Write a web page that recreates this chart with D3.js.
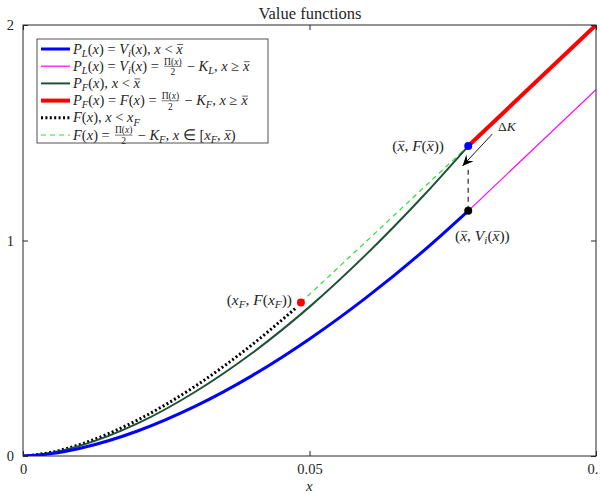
<!DOCTYPE html>
<html>
<head>
<meta charset="utf-8">
<script src="https://cdn.jsdelivr.net/npm/d3@7"></script>
<style>
  body { margin: 0; background: #fff; }
  text { font-family: "Liberation Serif", serif; fill: #262626; }
</style>
</head>
<body>
<script>

// values
var xTicks = [0, 0.05, 0.1],
	xTickLabels = ["0", "0.05", "0.1"],
	yTicks = [0, 1, 2];

// P_L(x) = V_i(x) for x < xbar (blue) and P_F(x) (dark green)
var xGrid = [0, 0.005, 0.01, 0.02, 0.03, 0.04, 0.05, 0.06, 0.07, 0.0777];
var plValues = [0, 0.011, 0.036, 0.116, 0.230, 0.373, 0.543, 0.737, 0.954, 1.1375];
var pfValues = [0, 0.015, 0.048, 0.151, 0.297, 0.478, 0.692, 0.938, 1.211, 1.4385];

// F(x) for x < x_F (black dotted)
var fGrid = [0, 0.005, 0.01, 0.02, 0.03, 0.04, 0.0478];
var fValues = [0, 0.0175, 0.054, 0.167, 0.323, 0.517, 0.691];

// straight pieces
var redX = [0.0777, 0.1], redY = [1.4385, 2.0];
var magX = [0.0777, 0.1], magY = [1.1375, 1.7];
var dashX = [0.0485, 0.0777], dashY = [0.7125, 1.4385];

// special points
var xBar = 0.0777, fBar = 1.4385, vBar = 1.1375;
var xF = 0.0485, fXF = 0.7125;
var arrowTail = [0.0819, 1.494], arrowHead = [0.0767, 1.346];

var width = 600,
	height = 493;

var svg = d3.select("body").append("svg")
	.attr("width", width)
	.attr("height", height)
	.style("display", "block");

var x = d3.scaleLinear().domain([0, 0.1]).range([23, 596]);
var y = d3.scaleLinear().domain([0, 2]).range([456, 25]);

svg.append("clipPath").attr("id", "plot")
	.append("rect")
	.attr("x", 23).attr("y", 25).attr("width", 573).attr("height", 431);

svg.append("defs").append("marker")
	.attr("id", "head")
	.attr("viewBox", "-12 -6 14 12")
	.attr("markerWidth", 14).attr("markerHeight", 12)
	.attr("markerUnits", "userSpaceOnUse")
	.attr("refX", 0).attr("refY", 0)
	.attr("orient", "auto")
	.append("path")
	.attr("d", "M0,0 L-11,-5 L-7,0 L-11,5 Z")
	.attr("fill", "#000");

// rich text helper: italic, subscript, overline and fractions
function rich(parent, px, py, segs, size) {
	var g = parent.append("g").attr("transform", "translate(" + px + "," + py + ")");
	var cx = 0;
	segs.forEach(function(s) {
		if (s.frac) {
			var fs = size * 0.66;
			var num = g.append("text").attr("font-size", fs).attr("y", -size * 0.42);
			num.append("tspan").text("Π(");
			num.append("tspan").attr("font-style", "italic").text("x");
			num.append("tspan").text(")");
			var den = g.append("text").attr("font-size", fs).attr("y", size * 0.32).text(s.frac[1]);
			var wn = num.node().getComputedTextLength(),
				wd = den.node().getComputedTextLength(),
				w = Math.max(wn, wd) + 3;
			num.attr("x", cx + 1.5 + (w - 3 - wn) / 2);
			den.attr("x", cx + 1.5 + (w - 3 - wd) / 2);
			g.append("line")
				.attr("x1", cx + 1.5).attr("x2", cx + w - 1.5)
				.attr("y1", -size * 0.3).attr("y2", -size * 0.3)
				.attr("stroke", "#262626").attr("stroke-width", 0.6);
			cx += w;
		} else {
			var fs2 = s.sub ? size * 0.72 : size;
			var t = g.append("text")
				.attr("x", cx)
				.attr("y", s.sub ? size * 0.22 : 0)
				.attr("font-size", fs2)
				.attr("font-style", s.it ? "italic" : "normal")
				.attr("xml:space", "preserve")
				.text(s.t);
			var tw = t.node().getComputedTextLength();
			if (s.ov) {
				g.append("line")
					.attr("x1", cx + 1).attr("x2", cx + tw + 0.5)
					.attr("y1", -size * 0.62).attr("y2", -size * 0.62)
					.attr("stroke", "#262626").attr("stroke-width", 0.7);
			}
			cx += tw;
		}
	});
	return { g: g, width: cx };
}

function I(t) { return { t: t, it: true }; }
function S(t) { return { t: t, it: true, sub: true }; }
function R(t) { return { t: t }; }
function O(t) { return { t: t, it: true, ov: true }; }
function FR() { return { frac: ["Π(x)", "2"] }; }

// title
svg.append("text")
	.attr("x", 310).attr("y", 19)
	.attr("text-anchor", "middle")
	.attr("font-size", 16.5)
	.text("Value functions");

var plot = svg.append("g").attr("clip-path", "url(#plot)");

function linePts(xs, ys) { return xs.map(function(d, i) { return [d, ys[i]]; }); }

var curve = d3.line()
	.x(function(d) { return x(d[0]); })
	.y(function(d) { return y(d[1]); })
	.curve(d3.curveMonotoneX);

// dashed green F(x) line on [x_F, xbar)
plot.append("path")
	.attr("d", curve(linePts(dashX, dashY)))
	.attr("fill", "none").attr("stroke", "#2ee02e")
	.attr("stroke-width", 1.2).attr("stroke-dasharray", "5,4");

// black dotted F(x)
plot.append("path")
	.attr("d", curve(linePts(fGrid, fValues)))
	.attr("fill", "none").attr("stroke", "#000")
	.attr("stroke-width", 3).attr("stroke-dasharray", "2,2.4");

// P_F dark green
plot.append("path")
	.attr("d", curve(linePts(xGrid, pfValues)))
	.attr("fill", "none").attr("stroke", "#1f5236")
	.attr("stroke-width", 2);

// P_L blue
plot.append("path")
	.attr("d", curve(linePts(xGrid, plValues)))
	.attr("fill", "none").attr("stroke", "#0000ff")
	.attr("stroke-width", 3);

// magenta and red straight parts
plot.append("path")
	.attr("d", curve(linePts(magX, magY)))
	.attr("fill", "none").attr("stroke", "#ff00ff")
	.attr("stroke-width", 1.2);

plot.append("path")
	.attr("d", curve(linePts(redX, redY)))
	.attr("fill", "none").attr("stroke", "#ff0000")
	.attr("stroke-width", 4);

// Delta K gap: gray dashed vertical and arrow
plot.append("line")
	.attr("x1", x(xBar)).attr("x2", x(xBar))
	.attr("y1", y(vBar)).attr("y2", y(arrowHead[1]) + 2)
	.attr("stroke", "#555").attr("stroke-width", 1.5)
	.attr("stroke-dasharray", "5,4");

plot.append("line")
	.attr("x1", x(arrowTail[0])).attr("y1", y(arrowTail[1]))
	.attr("x2", x(arrowHead[0])).attr("y2", y(arrowHead[1]))
	.attr("stroke", "#000").attr("stroke-width", 0.9)
	.attr("marker-end", "url(#head)");

// points
plot.append("circle").attr("cx", x(xBar)).attr("cy", y(fBar)).attr("r", 4).attr("fill", "#0000ff");
plot.append("circle").attr("cx", x(xBar)).attr("cy", y(vBar)).attr("r", 4).attr("fill", "#000");
plot.append("circle").attr("cx", x(xF)).attr("cy", y(fXF)).attr("r", 4).attr("fill", "#ff0000");

// axes box
svg.append("rect")
	.attr("x", 23).attr("y", 25).attr("width", 573).attr("height", 431)
	.attr("fill", "none").attr("stroke", "#262626").attr("stroke-width", 1);

var xAxisB = d3.axisBottom(x).tickValues(xTicks).tickSize(-5).tickFormat(function(d, i) { return xTickLabels[i]; }).tickPadding(8);
var xAxisT = d3.axisTop(x).tickValues(xTicks).tickSize(-5).tickFormat("");
var yAxisL = d3.axisLeft(y).tickValues(yTicks).tickSize(-5).tickFormat(d3.format("d")).tickPadding(9);
var yAxisR = d3.axisRight(y).tickValues(yTicks).tickSize(-5).tickFormat("");

[[xAxisB, "translate(0,456)"], [xAxisT, "translate(0,25)"], [yAxisL, "translate(23,0)"], [yAxisR, "translate(596,0)"]]
	.forEach(function(a) {
		var g = svg.append("g").attr("transform", a[1]).call(a[0]);
		g.select(".domain").remove();
		g.selectAll(".tick line").attr("stroke", "#262626");
		g.selectAll(".tick text")
			.attr("font-family", "Liberation Serif, serif")
			.attr("font-size", 14.5).attr("fill", "#262626");
	});

// x axis label
rich(svg, 306, 491, [I("x")], 15);

// annotations
var ann = svg.append("g");
var a1 = rich(ann, 0, 0, [R("("), O("x"), R(", "), I("F"), R("("), O("x"), R("))")], 15.5);
a1.g.attr("transform", "translate(" + (444 - a1.width) + ",151)");
rich(ann, 455, 241, [R("("), O("x"), R(", "), I("V"), S("i"), R("("), O("x"), R("))")], 15.5);
var a3 = rich(ann, 0, 0, [R("("), I("x"), S("F"), R(", "), I("F"), R("("), I("x"), S("F"), R("))")], 15.5);
a3.g.attr("transform", "translate(" + (292 - a3.width) + ",305)");
rich(ann, 498, 131, [R("Δ"), I("K")], 13.5);

// legend
var legend = svg.append("g");
legend.append("rect")
	.attr("x", 37).attr("y", 39).attr("width", 231).attr("height", 104)
	.attr("fill", "#fff").attr("stroke", "#262626").attr("stroke-width", 0.8);

var legendRows = [
	{ color: "#0000ff", w: 3, dash: null,
	  segs: [I("P"), S("L"), R("("), I("x"), R(") = "), I("V"), S("i"), R("("), I("x"), R("), "), I("x"), R(" < "), O("x")] },
	{ color: "#ff00ff", w: 1.2, dash: null,
	  segs: [I("P"), S("L"), R("("), I("x"), R(") = "), I("V"), S("i"), R("("), I("x"), R(") = "), FR(), R(" − "), I("K"), S("L"), R(", "), I("x"), R(" ≥ "), O("x")] },
	{ color: "#1f5236", w: 2, dash: null,
	  segs: [I("P"), S("F"), R("("), I("x"), R("), "), I("x"), R(" < "), O("x")] },
	{ color: "#ff0000", w: 4, dash: null,
	  segs: [I("P"), S("F"), R("("), I("x"), R(") = "), I("F"), R("("), I("x"), R(") = "), FR(), R(" − "), I("K"), S("F"), R(", "), I("x"), R(" ≥ "), O("x")] },
	{ color: "#000", w: 3, dash: "2,2.4",
	  segs: [I("F"), R("("), I("x"), R("), "), I("x"), R(" < "), I("x"), S("F")] },
	{ color: "#2ee02e", w: 1.2, dash: "5,4",
	  segs: [I("F"), R("("), I("x"), R(") = "), FR(), R(" − "), I("K"), S("F"), R(", "), I("x"), R(" ∈ ["), I("x"), S("F"), R(", "), O("x"), R(")")] }
];

legendRows.forEach(function(r, i) {
	var cy = 49 + i * 17.2;
	legend.append("line")
		.attr("x1", 41).attr("x2", 70)
		.attr("y1", cy).attr("y2", cy)
		.attr("stroke", r.color).attr("stroke-width", r.w)
		.attr("stroke-dasharray", r.dash);
	rich(legend, 73, cy + 4.5, r.segs, 14.5);
});

</script>
</body>
</html>
